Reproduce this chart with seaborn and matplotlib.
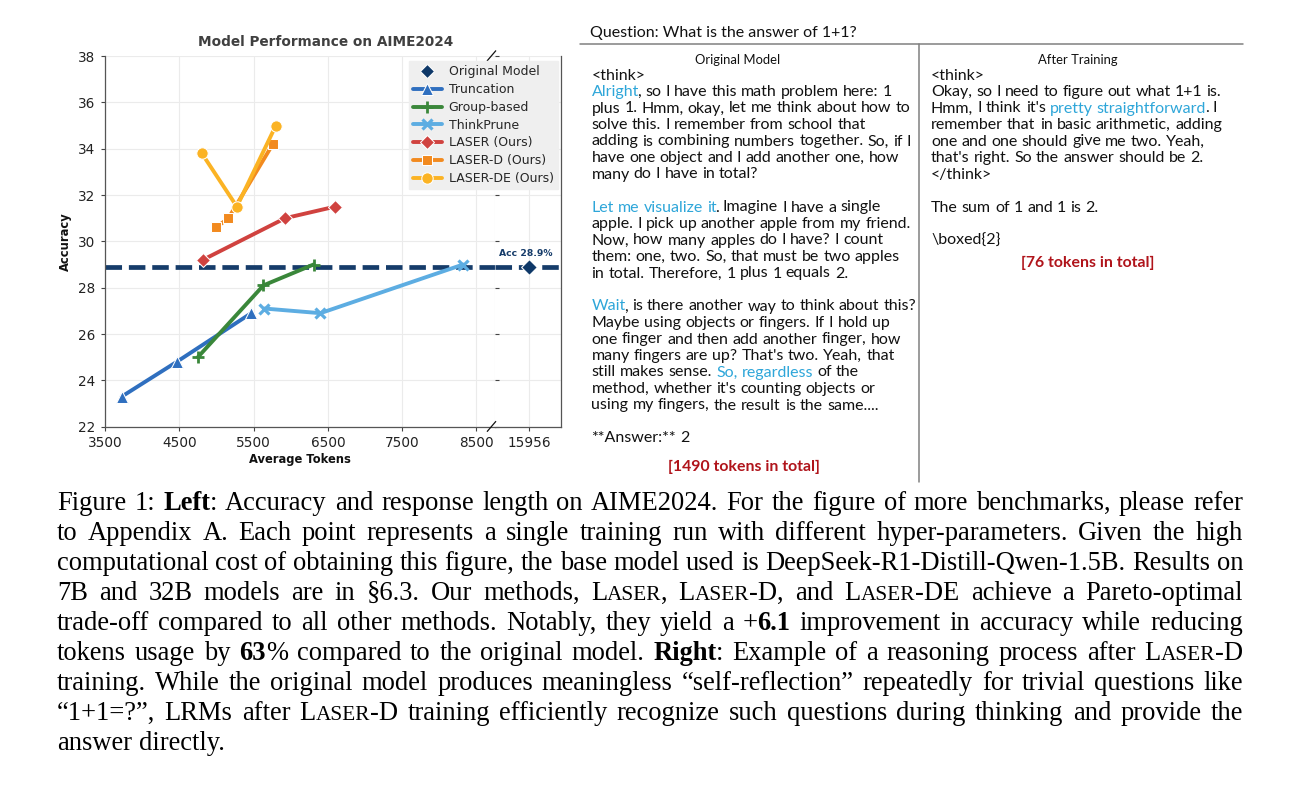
import matplotlib
matplotlib.use("Agg")
import matplotlib.pyplot as plt
from matplotlib.lines import Line2D
import numpy as np
import pandas as pd
import seaborn as sns

# ---------------- data ----------------
series_names = ["Truncation", "Group-based", "ThinkPrune",
                "LASER (Ours)", "LASER-D (Ours)", "LASER-DE (Ours)"]
trunc_tokens = [3725, 4466, 5468]
trunc_acc = [23.3, 24.8, 26.9]
group_tokens = [4750, 5633, 6307]
group_acc = [25.0, 28.1, 29.0]
prune_tokens = [5647, 6400, 8320]
prune_acc = [27.1, 26.9, 29.0]
laser_tokens = [4816, 5926, 6600]
laser_acc = [29.2, 31.0, 31.5]
laserd_tokens = [4996, 5162, 5760]
laserd_acc = [30.6, 31.0, 34.2]
laserde_tokens = [4803, 5275, 5800]
laserde_acc = [33.8, 31.5, 35.0]
orig_label = "Original Model"
orig_tokens = [15956]
orig_acc = [28.9]
x_ticks_main = [3500, 4500, 5500, 6500, 7500, 8500]
x_ticks_break = [15956]
y_ticks = [22, 24, 26, 28, 30, 32, 34, 36, 38]

left_lines = [
    "<think>",
    "[[Alright]], so I have this math problem here: 1",
    "plus 1. Hmm, okay, let me think about how to",
    "solve this. I remember from school that",
    "adding is combining numbers together. So, if I",
    "have one object and I add another one, how",
    "many do I have in total?",
    "",
    "[[Let me visualize it]]. Imagine I have a single",
    "apple. I pick up another apple from my friend.",
    "Now, how many apples do I have? I count",
    "them: one, two. So, that must be two apples",
    "in total. Therefore, 1 plus 1 equals 2.",
    "",
    "[[Wait]], is there another way to think about this?",
    "Maybe using objects or fingers. If I hold up",
    "one finger and then add another finger, how",
    "many fingers are up? That's two. Yeah, that",
    "still makes sense. [[So, regardless]] of the",
    "method, whether it's counting objects or",
    "using my fingers, the result is the same....",
    "",
    "**Answer:** 2",
]
right_lines = [
    "<think>",
    "Okay, so I need to figure out what 1+1 is.",
    "Hmm, I think it's [[pretty straightforward]]. I",
    "remember that in basic arithmetic, adding",
    "one and one should give me two. Yeah,",
    "that's right. So the answer should be 2.",
    "</think>",
    "",
    "The sum of 1 and 1 is 2.",
    "",
    "\\boxed{2}",
]
caption_lines = [
    "Figure 1: |Left|: Accuracy and response length on AIME2024. For the figure of more benchmarks, please refer",
    "to Appendix A. Each point represents a single training run with different hyper-parameters. Given the high",
    "computational cost of obtaining this figure, the base model used is DeepSeek-R1-Distill-Qwen-1.5B. Results on",
    "7B and 32B models are in §6.3. Our methods, L^aser^, L^aser^-D, and L^aser^-DE achieve a Pareto-optimal",
    "trade-off compared to all other methods. Notably, they yield a +|6.1| improvement in accuracy while reducing",
    "tokens usage by |63|% compared to the original model. |Right|: Example of a reasoning process after L^aser^-D",
    "training. While the original model produces meaningless “self-reflection” repeatedly for trivial questions like",
    "“1+1=?”, LRMs after L^aser^-D training efficiently recognize such questions during thinking and provide the",
    "answer directly.",
]

# ---------------- style ----------------
sns.set_theme(style="whitegrid")
plt.rcParams["font.family"] = ["DejaVu Sans"]

W, H = 1300, 786
fig = plt.figure(figsize=(W / 100, H / 100), dpi=100)
fig.patch.set_facecolor("white")


def rect(l, t, r, b):
    return [l / W, 1 - b / H, (r - l) / W, (b - t) / H]


PL, PT, PB, PBRK, PR = 105, 56, 426.7, 495, 561
ax = fig.add_axes(rect(PL, PT, PBRK, PB))
ax2 = fig.add_axes(rect(PBRK, PT, PR, PB))

NAVY = "#163c6a"
styles = [
    (trunc_tokens, trunc_acc, "#2f6fbf", "^", 8.0, "white", 0.75),
    (group_tokens, group_acc, "#3a873a", "+", 9.0, "#3a873a", 2.0),
    (prune_tokens, prune_acc, "#5dade2", "x", 7.0, "#5dade2", 2.3),
    (laser_tokens, laser_acc, "#d0423f", "D", 7.2, "white", 0.75),
    (laserd_tokens, laserd_acc, "#f28a1f", "s", 7.2, "white", 0.75),
    (laserde_tokens, laserde_acc, "#fbb324", "o", 8.2, "white", 0.75),
]

for a in (ax, ax2):
    a.axhline(orig_acc[0], color=NAVY, lw=3.4, linestyle=(0, (3.5, 1.45)), zorder=1.5)

for name, (xs, ys, col, mk, ms, mec, mew) in zip(series_names, styles):
    df = pd.DataFrame({"tokens": xs, "acc": ys})
    sns.lineplot(data=df, x="tokens", y="acc", ax=ax, color=col, marker=mk,
                 markersize=ms, linewidth=2.8, sort=False, errorbar=None,
                 label=name, markeredgecolor=mec, markeredgewidth=mew, zorder=3)

sns.scatterplot(x=orig_tokens, y=orig_acc, ax=ax2, marker="D", s=64,
                color="#0e3868", edgecolor="white", linewidth=0.8, zorder=4)
ax2.annotate(f"Acc {orig_acc[0]}%", xy=(orig_tokens[0], orig_acc[0]),
             xytext=(-2.2, 9.6), textcoords="offset points", ha="center",
             va="center", fontsize=6.7, fontweight="bold", color=NAVY,
             annotation_clip=False)

handles, labels = ax.get_legend_handles_labels()
if ax.get_legend() is not None:
    ax.get_legend().remove()

ax.set_xlim(3500, 8750)
ax.set_xticks(x_ticks_main)
ax2.set_xlim(15495, 16385)
ax2.set_xticks(x_ticks_break)
for a in (ax, ax2):
    a.set_ylim(22, 38)
    a.set_yticks(y_ticks)
    a.grid(True, color="#ebebeb", lw=0.8)
    a.tick_params(axis="both", which="major", bottom=True, left=True,
                  length=3.2, width=0.8, color="#444444", labelsize=9.8,
                  labelcolor="#222222", pad=3.5)
    a.set_facecolor("white")
ax2.tick_params(axis="y", labelleft=False, direction="in", length=3)
ax2.set_xlabel("")
ax2.set_ylabel("")

for s in ("left", "bottom"):
    ax.spines[s].set_color("#555555")
    ax.spines[s].set_linewidth(0.9)
ax.spines["top"].set_visible(False)
ax.spines["right"].set_color("#dddddd")
ax.spines["right"].set_linewidth(0.8)
for s in ("right", "bottom"):
    ax2.spines[s].set_color("#555555")
    ax2.spines[s].set_linewidth(0.9)
ax2.spines["top"].set_visible(False)
ax2.spines["left"].set_visible(False)

ax.set_xlabel("Average Tokens", fontsize=8.3, fontweight="bold", color="#111111")
ax.set_ylabel("Accuracy", fontsize=8.3, fontweight="bold", color="#111111")
ax.xaxis.set_label_coords(0.5, -0.072)
ax.yaxis.set_label_coords(-0.086, 0.5)

orig_handle = Line2D([], [], marker="D", linestyle="None", color="#0e3868",
                     markersize=7.2, markeredgecolor="white", markeredgewidth=0.7)
fig.legend([orig_handle] + handles, [orig_label] + labels, loc="upper right",
           bbox_to_anchor=(558 / W, 1 - 61 / H), bbox_transform=fig.transFigure,
           fontsize=9.0, frameon=True, facecolor="#efefef", edgecolor="#efefef",
           framealpha=1, fancybox=False, borderpad=0.35, labelspacing=0.38,
           handlelength=2.3, handletextpad=0.55, borderaxespad=0)

# ---------------- overlay (pixel coordinates) ----------------
ov = fig.add_axes([0, 0, 1, 1])
ov.set_xlim(0, W)
ov.set_ylim(H, 0)
ov.axis("off")
ov.patch.set_alpha(0)

ov.text(326, 42, "Model Performance on AIME2024", ha="center", va="center",
        fontsize=9.8, fontweight="bold", color="#404040", family="DejaVu Sans")

# broken-axis marks
for yb in (PB, PT):
    ov.plot([PBRK - 8, PBRK + 1], [yb + 5, yb - 5.5], color="#111111", lw=0.9,
            solid_capstyle="butt", clip_on=False)

renderer = fig.canvas.get_renderer()


def text_w(s, **kw):
    t = fig.text(0, 0, s, **kw)
    w = t.get_window_extent(renderer).width
    t.remove()
    return w


def adv(s, props):
    return text_w("l" + s + "l", **props) - text_w("ll", **props)


def parse(line, markers):
    pieces = []
    flags = set()
    i, buf = 0, ""
    while i < len(line):
        hit = None
        for mk, fl in markers.items():
            if line.startswith(mk, i):
                hit = (mk, fl)
                break
        if hit:
            if buf:
                pieces.append((buf, frozenset(flags)))
                buf = ""
            flags ^= {hit[1]}
            i += len(hit[0])
        else:
            buf += line[i]
            i += 1
    if buf:
        pieces.append((buf, frozenset(flags)))
    words = [[]]
    for txt, fl in pieces:
        parts = txt.split(" ")
        for k, part in enumerate(parts):
            if k > 0:
                words.append([])
            if part:
                words[-1].append((part, fl))
    return [w for w in words if w]


PUNCT = ",.:;?!"


def draw_line(x0, yb, words, props_fn, gap=None, width=None, punct_shift=0.0):
    items = []
    wordw = []
    for word in words:
        ps = []
        tot = 0
        for j, (txt, fl) in enumerate(word):
            p, t2 = props_fn(fl, txt)
            a_ = adv(t2, p)
            sh = punct_shift if (j > 0 and t2[0] in PUNCT) else 0.0
            ps.append((t2, p, a_, sh))
            tot += a_ + sh
        items.append(ps)
        wordw.append(tot)
    if width is not None and len(words) > 1:
        gap = (width - sum(wordw)) / (len(words) - 1)
    x = x0
    for ps, ww in zip(items, wordw):
        xx = x
        for t2, p, a_, sh in ps:
            xx += sh
            ov.text(xx, yb, t2, ha="left", va="baseline", clip_on=False, **p)
            xx += a_
        x += ww + gap


# ---- right panel ----
BODY = "Lato"
fs_body = 10 * 318.3 / text_w("plus 1. Hmm, okay, let me think about how to", family=BODY, size=10)
fs_q = 10 * 268 / text_w("Question: What is the answer of 1+1?", family=BODY, size=10)
fs_h = 10 * 85 / text_w("Original Model", family=BODY, size=10)
fs_r = 10 * 152 / text_w("[1490 tokens in total]", family=BODY, size=10, weight="bold")
HL = "#2ea6d9"
TXT = "#111111"


def body_props(fl, txt):
    return dict(family=BODY, size=fs_body, color=HL if "hl" in fl else TXT), txt


sp_body = adv(" ", dict(family=BODY, size=fs_body))

ov.text(590, 36.5, "Question: What is the answer of 1+1?", family=BODY, size=fs_q,
        color=TXT, ha="left", va="baseline")
ov.plot([580, 1243], [44, 44], color="#808080", lw=1.1, clip_on=False)
ov.plot([919, 919], [44, 482], color="#808080", lw=1.1, clip_on=False)
ov.text(737.5, 64, "Original Model", family=BODY, size=fs_h, color=TXT,
        ha="center", va="baseline")
ov.text(1078, 64, "After Training", family=BODY, size=fs_h, color=TXT,
        ha="center", va="baseline")

LH = 16.5
for i, ln in enumerate(left_lines):
    if ln:
        draw_line(591.5, 79.5 + LH * i, parse(ln, {"[[": "hl", "]]": "hl"}),
                  body_props, gap=sp_body, punct_shift=-1.5)
for i, ln in enumerate(right_lines):
    if ln:
        draw_line(931, 79.5 + LH * i, parse(ln, {"[[": "hl", "]]": "hl"}),
                  body_props, gap=sp_body, punct_shift=-1.5)

RED = "#b0141b"
ov.text(744, 471, "[1490 tokens in total]", family=BODY, size=fs_r, weight="bold",
        color=RED, ha="center", va="baseline")
ov.text(1087.5, 267, "[76 tokens in total]", family=BODY, size=fs_r, weight="bold",
        color=RED, ha="center", va="baseline")

# ---- caption ----
CAP = "Liberation Serif"
fs_cap = 10 * 168 / text_w("answer directly.", family=CAP, size=10)


def cap_props(fl, txt):
    p = dict(family=CAP, size=fs_cap, color="#000000")
    if "b" in fl:
        p["weight"] = "bold"
    if "sc" in fl:
        p["size"] = fs_cap * 0.8
        txt = txt.upper()
    return p, txt


sp_cap = adv(" ", dict(family=CAP, size=fs_cap))
for i, ln in enumerate(caption_lines):
    words = parse(ln, {"|": "b", "^": "sc"})
    last = i == len(caption_lines) - 1
    draw_line(57, 510 + 30 * i, words, cap_props, gap=sp_cap,
              width=None if last else 1186, punct_shift=-0.5)

fig.savefig("out.png", dpi=100, facecolor="white")
